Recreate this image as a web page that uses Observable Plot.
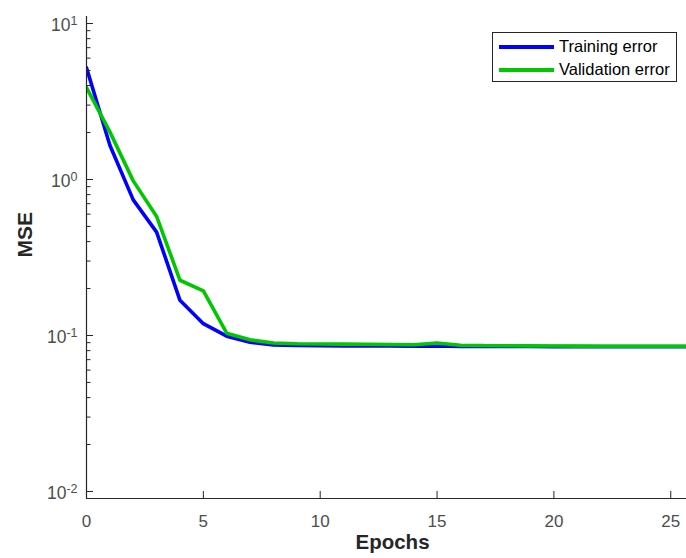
<!DOCTYPE html>
<html>
<head>
<meta charset="utf-8">
<script src="https://cdn.jsdelivr.net/npm/d3@7"></script>
<script src="https://cdn.jsdelivr.net/npm/@observablehq/plot@0.6"></script>
<style>
  html, body { margin: 0; padding: 0; background: #fff; }
  #wrap { position: relative; width: 686px; height: 558px; font-family: "Liberation Sans", Arial, sans-serif; }
  #legend { position: absolute; left: 492px; top: 32px; width: 185px; height: 50px; border: 1px solid #262626; background: #fff; box-sizing: border-box; }
  .item { position: absolute; left: 0; height: 20px; display: flex; align-items: center; }
  .swatch { width: 55px; height: 4px; margin-left: 6px; margin-right: 5px; }
  .lbl { font-size: 16.5px; color: #000; white-space: nowrap; }
</style>
</head>
<body>
<div id="wrap"></div>
<script>
const epochs = [0,1,2,3,4,5,6,7,8,9,10,11,12,13,14,15,16,17,18,19,20,21,22,23,24,25,26];
const trainingError = [5.2, 1.66, 0.74, 0.46, 0.168, 0.119, 0.099, 0.0905, 0.087, 0.0862, 0.086, 0.0858, 0.0857, 0.0856, 0.0855, 0.0857, 0.0852, 0.0851, 0.085, 0.085, 0.0849, 0.0849, 0.0848, 0.0848, 0.0848, 0.0848, 0.0848];
const validationError = [3.88, 2.02, 0.98, 0.58, 0.226, 0.193, 0.1035, 0.0938, 0.0895, 0.0885, 0.0882, 0.088, 0.0878, 0.0875, 0.0872, 0.0895, 0.0865, 0.0862, 0.086, 0.0858, 0.0856, 0.0855, 0.0854, 0.0854, 0.0853, 0.0853, 0.0853];
const seriesNames = ["Training error", "Validation error"];
const seriesColors = ["#0000ff", "#00c800"];
const xTicks = [0, 5, 10, 15, 20, 25];
const yMajorTicks = [0.01, 0.1, 1, 10];
const yMinorTicks = [0.02,0.03,0.04,0.05,0.06,0.07,0.08,0.09,0.2,0.3,0.4,0.5,0.6,0.7,0.8,0.9,2,3,4,5,6,7,8,9];
const xLabel = "Epochs";
const yLabel = "MSE";

const rows = [];
epochs.forEach((e, i) => {
  rows.push({epoch: e, value: trainingError[i], series: seriesNames[0]});
  rows.push({epoch: e, value: validationError[i], series: seriesNames[1]});
});

const W = 686, H = 558;
const mL = 86, mR = 0, mT = 16, mB = 60;
const pxPerUnit = 23.37;
const xMax = (W - mL - mR) / pxPerUnit;
const yMin = Math.pow(10, -2.045), yMax = Math.pow(10, 1.045);
const axisColor = "#262626";
const tickTextColor = "#4d4d4d";

const chart = Plot.plot({
  width: W, height: H,
  marginLeft: mL, marginRight: mR, marginTop: mT, marginBottom: mB,
  style: {fontFamily: "'Liberation Sans', Arial, sans-serif", background: "white", overflow: "visible"},
  x: {domain: [0, xMax], label: null},
  y: {type: "log", domain: [yMin, yMax], label: null},
  color: {domain: seriesNames, range: seriesColors},
  marks: [
    Plot.line(rows, {x: "epoch", y: "value", z: "series", stroke: "series", strokeWidth: 3.6, clip: true, strokeLinejoin: "miter"}),
    Plot.ruleX([0], {stroke: axisColor, strokeWidth: 1.2}),
    Plot.ruleY([yMin], {stroke: axisColor, strokeWidth: 1.2}),
    Plot.axisX({ticks: xTicks, tickSize: -7, text: null, label: null, stroke: axisColor}),
    Plot.axisX({ticks: xTicks, tickSize: 0, tickPadding: 16, label: null, fontSize: 17, fill: tickTextColor}),
    Plot.axisY({ticks: yMajorTicks, tickSize: -7, text: null, label: null, stroke: axisColor}),
    Plot.axisY({ticks: yMinorTicks, tickSize: -4.5, text: null, label: null, stroke: axisColor}),
    Plot.axisY({ticks: yMajorTicks, tickSize: 0, tickPadding: 9, label: null, fontSize: 17.5, fill: tickTextColor, dy: 2,
      tickFormat: d => "10^" + Math.round(Math.log10(d))}),
    Plot.text([xLabel], {frameAnchor: "bottom", text: d => d, dx: 6, dy: 50, fontSize: 20.5, fontWeight: "bold", fill: axisColor}),
    Plot.text([yLabel], {frameAnchor: "left", text: d => d, rotate: -90, dx: -61.5, fontSize: 21, fontWeight: "bold", fill: axisColor})
  ]
});

// Render tick labels "10^k" as 10 with a superscript exponent
d3.select(chart).selectAll("text").each(function() {
  const t = this.textContent;
  const m = /^10\^(-?\d+)$/.exec(t);
  if (m) {
    const el = d3.select(this);
    el.text(null);
    el.append("tspan").text("10");
    el.append("tspan").attr("dy", "-0.5em").attr("font-size", "12.5px").text(m[1]);
  }
});

const wrap = document.getElementById("wrap");
wrap.appendChild(chart);

const legend = document.createElement("div");
legend.id = "legend";
seriesNames.forEach((name, i) => {
  const item = document.createElement("div");
  item.className = "item";
  item.style.top = (i === 0 ? 3.5 : 26.5) + "px";
  const sw = document.createElement("div");
  sw.className = "swatch";
  sw.style.background = seriesColors[i];
  const lb = document.createElement("span");
  lb.className = "lbl";
  lb.textContent = name;
  item.appendChild(sw);
  item.appendChild(lb);
  legend.appendChild(item);
});
wrap.appendChild(legend);
</script>
</body>
</html>
